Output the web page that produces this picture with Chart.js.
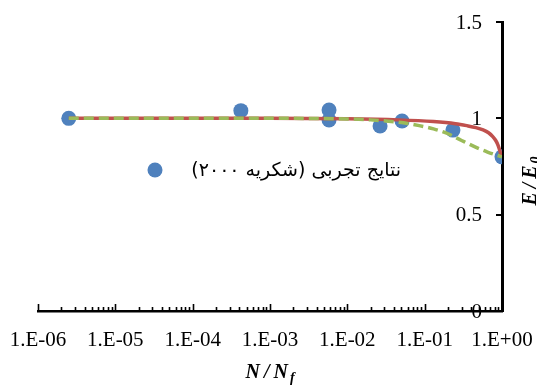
<!DOCTYPE html>
<html>
<head>
<meta charset="utf-8">
<script src="https://cdn.jsdelivr.net/npm/chart.js@4/dist/chart.umd.min.js"></script>
<style>
  html, body { margin: 0; padding: 0; background: #fff; }
  canvas { display: block; }
</style>
</head>
<body>
<canvas id="chart" width="537" height="385"></canvas>
<script>
// ---- data ----
const legendLabel = 'نتایج تجربی (شکریه ۲۰۰۰)';
const xTitleMain = 'N/N';
const xTitleSub = 'f';
const yTitleMain = 'E/E';
const yTitleSub = '0';

const xDecades = [1e-6, 1e-5, 1e-4, 1e-3, 1e-2, 1e-1, 1];
const xTickLabels = ['1.E-06', '1.E-05', '1.E-04', '1.E-03', '1.E-02', '1.E-01', '1.E+00'];
const yTickValues = [0, 0.5, 1, 1.5];
const yTickLabels = ['0', '0.5', '1', '1.5'];

// experimental points (N/Nf, E/E0)
const expN = [2.5e-6, 4.2e-4, 5.8e-3, 5.8e-3, 0.0265, 0.051, 0.232, 1.0];
const expE = [1.0, 1.04, 1.043, 0.991, 0.96, 0.986, 0.939, 0.80];

// stiffness degradation model (solid)
const solidN = [2.5e-6, 1e-4, 1e-3, 0.01, 0.046, 0.13, 0.25, 0.35, 0.46, 0.57, 0.67, 0.76, 0.83, 0.89, 0.94, 0.97, 1.0];
const solidE = [1.0, 1.0, 1.0, 0.998, 0.992, 0.983, 0.972, 0.962, 0.952, 0.94, 0.925, 0.905, 0.885, 0.86, 0.83, 0.812, 0.80];

// stiffness degradation model (dashed)
const dashN = [2.5e-6, 1e-4, 1e-3, 0.005, 0.01, 0.02, 0.03, 0.05, 0.085, 0.13, 0.2, 0.3, 0.47, 0.65, 0.86, 1.0];
const dashE = [1.0, 1.0, 1.0, 0.999, 0.997, 0.992, 0.987, 0.978, 0.962, 0.945, 0.92, 0.885, 0.848, 0.825, 0.808, 0.80];

const toPoints = (xs, ys) => xs.map((x, i) => ({ x: x, y: ys[i] }));

// log-axis tick positions: each decade plus 2..9 subdivisions
const xAllTicks = [];
xDecades.forEach((d, i) => {
  xAllTicks.push({ value: d, major: true });
  if (i < xDecades.length - 1) {
    for (let m = 2; m <= 9; m++) xAllTicks.push({ value: d * m, major: false });
  }
});

const BLUE = '#4F81BD';
const RED = '#C0504D';
const GREEN = '#9BBB59';
const SERIF = "'Liberation Serif', 'Times New Roman', serif";

// inward tick marks, tick labels, axis titles with subscripts, in-plot legend
const decorPlugin = {
  id: 'decor',
  afterDraw(chart) {
    const ctx = chart.ctx;
    const area = chart.chartArea;
    const xs = chart.scales.x;
    const ys = chart.scales.y;
    ctx.save();
    ctx.strokeStyle = '#000';
    ctx.lineWidth = 1.6;
    ctx.beginPath();
    xs.ticks.forEach(t => {
      const px = Math.round(xs.getPixelForValue(t.value)) + 0.5;
      const len = t.major ? 7 : 4;
      ctx.moveTo(px, area.bottom);
      ctx.lineTo(px, area.bottom - len);
    });
    ctx.stroke();
    ctx.lineWidth = 2;
    ctx.beginPath();
    ys.ticks.forEach(t => {
      const py = Math.round(ys.getPixelForValue(t.value));
      ctx.moveTo(area.right, py);
      ctx.lineTo(area.right - 6, py);
    });
    ctx.stroke();

    // tick labels
    ctx.fillStyle = '#000';
    ctx.font = '21px ' + SERIF;
    ctx.textBaseline = 'middle';
    ctx.textAlign = 'center';
    xs.ticks.forEach(t => {
      const i = xDecades.findIndex(d => Math.abs(d - t.value) < d * 1e-9);
      if (i >= 0) ctx.fillText(xTickLabels[i], xs.getPixelForValue(t.value), area.bottom + 29);
    });
    ctx.textAlign = 'right';
    ys.ticks.forEach(t => {
      const i = yTickValues.indexOf(t.value);
      if (i >= 0) ctx.fillText(yTickLabels[i], area.right - 20, ys.getPixelForValue(t.value) + 1);
    });

    // axis titles
    const mainFont = "italic bold 20px " + SERIF;
    const subFont = "italic bold 14px " + SERIF;
    ctx.textBaseline = 'alphabetic';
    ctx.textAlign = 'left';
    ctx.letterSpacing = '4px';
    ctx.font = mainFont;
    let wMain = ctx.measureText(xTitleMain).width;
    ctx.font = subFont;
    let wSub = ctx.measureText(xTitleSub).width;
    let cx = (area.left + area.right) / 2 + 3;
    let x0 = cx - (wMain + wSub) / 2;
    ctx.font = mainFont;
    ctx.fillText(xTitleMain, x0, 378);
    ctx.font = subFont;
    ctx.fillText(xTitleSub, x0 + wMain - 2, 382);

    ctx.save();
    ctx.translate(536, 178);
    ctx.rotate(-Math.PI / 2);
    ctx.font = mainFont;
    wMain = ctx.measureText(yTitleMain).width;
    ctx.font = subFont;
    wSub = ctx.measureText(yTitleSub).width;
    x0 = -(wMain + wSub) / 2;
    ctx.font = mainFont;
    ctx.fillText(yTitleMain, x0, 0);
    ctx.font = subFont;
    ctx.fillText(yTitleSub, x0 + wMain - 2, 4);
    ctx.restore();
    ctx.letterSpacing = '0px';

    // legend entry for the experimental series
    const ds = chart.data.datasets[2];
    ctx.fillStyle = ds.backgroundColor;
    ctx.beginPath();
    ctx.arc(155, 170, 7.5, 0, Math.PI * 2);
    ctx.fill();
    ctx.fillStyle = '#000';
    ctx.direction = 'rtl';
    ctx.textAlign = 'right';
    ctx.textBaseline = 'middle';
    ctx.font = "19px 'DejaVu Sans', sans-serif";
    ctx.fillText(ds.label, 401, 171);
    ctx.restore();
  }
};

new Chart(document.getElementById('chart'), {
  type: 'scatter',
  data: {
    datasets: [
      {
        label: 'dashed model',
        data: toPoints(dashN, dashE),
        showLine: true,
        borderColor: GREEN,
        borderWidth: 3.5,
        borderDash: [10, 5],
        pointRadius: 0,
        cubicInterpolationMode: 'monotone',
        order: 0
      },
      {
        label: 'solid model',
        data: toPoints(solidN, solidE),
        showLine: true,
        borderColor: RED,
        borderWidth: 3.5,
        pointRadius: 0,
        cubicInterpolationMode: 'monotone',
        order: 1
      },
      {
        label: legendLabel,
        data: toPoints(expN, expE),
        showLine: false,
        backgroundColor: BLUE,
        borderColor: BLUE,
        pointRadius: 7.5,
        pointBorderWidth: 0,
        order: 2
      }
    ]
  },
  options: {
    responsive: false,
    animation: false,
    devicePixelRatio: 1,
    layout: { padding: { left: 38, right: 35, top: 22, bottom: 74 } },
    plugins: {
      legend: { display: false },
      tooltip: { enabled: false }
    },
    scales: {
      x: {
        type: 'logarithmic',
        min: 1e-6,
        max: 1,
        afterBuildTicks: (scale) => { scale.ticks = xAllTicks.map(t => ({ value: t.value, major: t.major })); },
        ticks: { display: false, autoSkip: false },
        grid: { display: true, drawOnChartArea: false, drawTicks: false },
        border: { display: true, color: '#000', width: 2.5 }
      },
      y: {
        type: 'linear',
        position: 'right',
        min: 0,
        max: 1.5,
        afterBuildTicks: (scale) => { scale.ticks = yTickValues.map(v => ({ value: v })); },
        ticks: { display: false },
        grid: { display: true, drawOnChartArea: false, drawTicks: false },
        border: { display: true, color: '#000', width: 3 }
      }
    }
  },
  plugins: [decorPlugin]
});
</script>
</body>
</html>
